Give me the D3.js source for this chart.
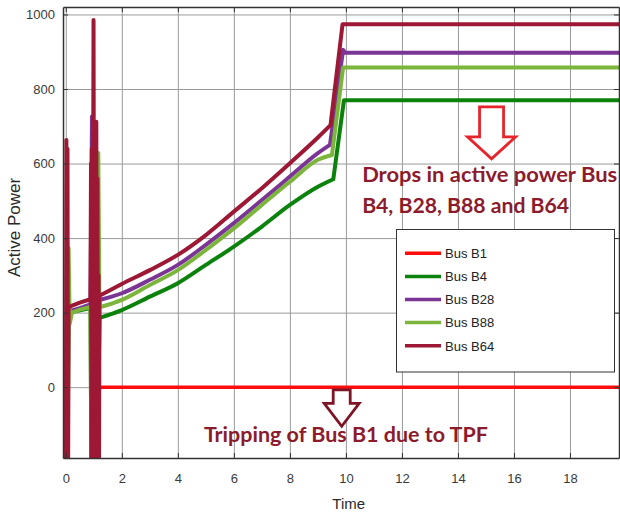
<!DOCTYPE html>
<html>
<head>
<meta charset="utf-8">
<script src="https://cdn.jsdelivr.net/npm/d3@7/dist/d3.min.js"></script>
<style>
  html, body { margin: 0; padding: 0; background: #fff; }
  svg { display: block; }
</style>
</head>
<body>
<svg id="chart" width="620" height="515"></svg>
<script>
// Active power per bus against time: [time, power] samples
// (fault transients dip below the visible range)
const busB1 = [[1.2, 0], [19.75, 0]];
const busB4 = [[0.05, -300], [0.1, 195], [0.3, 203], [0.88, 212], [0.92, -300], [1.14, -300], [1.2, 186],
  [2, 207], [3, 243], [4, 279], [5, 328], [6, 377], [7, 431], [8, 489], [9, 538], [9.55, 558], [9.93, 770], [19.75, 770]];
const busB28 = [[0.05, 200], [0.2, 205], [0.5, 212], [0.88, 222], [0.935, 726], [0.96, -300], [1.14, -300], [1.2, 234],
  [2, 252], [3, 288], [4, 328], [5, 382], [6, 440], [7, 502], [8, 565], [9, 628], [9.43, 650], [9.9, 905], [9.97, 897], [19.75, 897]];
const busB88 = [[0.07, -300], [0.1, 373], [0.14, 170], [0.22, 200], [0.5, 208], [0.88, 215], [0.92, -300], [1.1, -300],
  [1.16, 628], [1.2, 214], [2, 234], [3, 274], [4, 314], [5, 368], [6, 426], [7, 489], [8, 551], [9, 610], [9.5, 623],
  [9.9, 858], [19.75, 858]];
const busB64 = [[0.0, -300], [0.02, 663], [0.04, -300], [0.06, 640], [0.08, -300], [0.1, 214], [0.2, 218], [0.5, 227],
  [0.88, 236], [0.9, 600], [0.915, -300], [0.93, 640], [0.95, -300], [0.99, 985], [1.02, -300], [1.045, 650],
  [1.065, -300], [1.09, 712], [1.11, -300], [1.13, 560], [1.15, -300], [1.17, 300], [1.185, -300], [1.2, 245],
  [2, 277], [3, 314], [4, 355], [5, 408], [6, 471], [7, 534], [8, 601], [9, 670], [9.45, 703], [9.88, 974], [19.75, 974]];

const seriesNames = ["Bus B1", "Bus B4", "Bus B28", "Bus B88", "Bus B64"];
const seriesData = [busB1, busB4, busB28, busB88, busB64];
const seriesColors = ["#ff0d0d", "#0b820b", "#7b3594", "#7cb53c", "#9c1834"];

// the slow load ramp between the fault transient and the step
const rampFrom = 1.2, rampTo = 9.6;

const xTicks = [0, 2, 4, 6, 8, 10, 12, 14, 16, 18];
const yTicks = [0, 200, 400, 600, 800, 1000];

const svg = d3.select("#chart");
const plotLeft = 63, plotRight = 619, plotTop = 7, plotBottom = 458;

const x = d3.scaleLinear().domain([-0.1, 19.75]).range([plotLeft, plotRight]);
const y = d3.scaleLinear().domain([-190, 1020]).range([plotBottom, plotTop]);

// grid
svg.append("g")
  .attr("transform", `translate(0,${plotBottom})`)
  .call(d3.axisBottom(x).tickValues(xTicks).tickSize(-(plotBottom - plotTop)).tickFormat(""))
  .call(g => g.select(".domain").remove())
  .selectAll("line").attr("stroke", "#9a9a9a").attr("stroke-width", 1);
svg.append("g")
  .attr("transform", `translate(${plotLeft},0)`)
  .call(d3.axisLeft(y).tickValues(yTicks).tickSize(-(plotRight - plotLeft)).tickFormat(""))
  .call(g => g.select(".domain").remove())
  .selectAll("line").attr("stroke", "#9a9a9a").attr("stroke-width", 1);

// curves: straight segments for transients and steps, smooth through the ramp
svg.append("clipPath").attr("id", "plot-clip")
  .append("rect").attr("x", plotLeft).attr("y", plotTop)
  .attr("width", plotRight - plotLeft).attr("height", plotBottom - plotTop);

function seriesPath(pts) {
  const ctx = d3.path();
  const straight = d3.line().x(d => x(d[0])).y(d => y(d[1])).context(ctx);
  const smooth = d3.line().x(d => x(d[0])).y(d => y(d[1])).curve(d3.curveMonotoneX).context(ctx);
  const ramp = pts.filter(d => d[0] >= rampFrom && d[0] <= rampTo);
  if (ramp.length < 3) { straight(pts); return ctx.toString(); }
  const before = pts.filter(d => d[0] <= ramp[0][0]);
  const after = pts.filter(d => d[0] >= ramp[ramp.length - 1][0]);
  if (before.length > 1) straight(before);
  smooth(ramp);
  if (after.length > 1) straight(after);
  return ctx.toString();
}

svg.append("g").attr("clip-path", "url(#plot-clip)")
  .selectAll("path").data(seriesData).join("path")
  .attr("d", seriesPath)
  .attr("fill", "none")
  .attr("stroke", (d, i) => seriesColors[i])
  .attr("stroke-width", (d, i) => i === 0 ? 3.5 : 4)
  .attr("stroke-linejoin", "round")
  .attr("stroke-linecap", "round");

// axes frame with inward ticks
const tickColor = "#333";
const axB = svg.append("g").attr("transform", `translate(0,${plotBottom})`)
  .call(d3.axisBottom(x).tickValues(xTicks).tickSize(-5).tickPadding(15.5).tickSizeOuter(0).tickFormat(d3.format("d")));
const axL = svg.append("g").attr("transform", `translate(${plotLeft},0)`)
  .call(d3.axisLeft(y).tickValues(yTicks).tickSize(-5).tickPadding(8).tickSizeOuter(0).tickFormat(d3.format("d")));
const axT = svg.append("g").attr("transform", `translate(0,${plotTop})`)
  .call(d3.axisTop(x).tickValues(xTicks).tickSize(-5).tickFormat("").tickSizeOuter(0));
const axR = svg.append("g").attr("transform", `translate(${plotRight},0)`)
  .call(d3.axisRight(y).tickValues(yTicks).tickSize(-5).tickFormat("").tickSizeOuter(0));
[axB, axL, axT, axR].forEach(g => {
  g.select(".domain").attr("stroke", tickColor).attr("stroke-width", 1.5);
  g.selectAll(".tick line").attr("stroke", tickColor);
  g.selectAll("text").attr("fill", "#3a3a3a")
    .style("font-family", "'Liberation Sans', Arial, sans-serif").style("font-size", "13px");
});

// axis titles
svg.append("text")
  .attr("transform", `translate(20,227.5) rotate(-90)`)
  .attr("text-anchor", "middle")
  .style("font-family", "'Liberation Sans', Arial, sans-serif").style("font-size", "17px")
  .attr("fill", "#2a2a2a")
  .text("Active Power");
svg.append("text")
  .attr("x", x(10.1)).attr("y", 509)
  .attr("text-anchor", "middle")
  .style("font-family", "'Liberation Sans', Arial, sans-serif").style("font-size", "15px")
  .attr("fill", "#2a2a2a")
  .text("Time");

// legend
const legend = svg.append("g");
legend.append("rect")
  .attr("x", 396.5).attr("y", 229.5).attr("width", 218).attr("height", 142.5)
  .attr("fill", "#fff").attr("stroke", "#333").attr("stroke-width", 1);
seriesNames.forEach((name, i) => {
  const ly = 253.3 + i * 23.1;
  legend.append("line")
    .attr("x1", 405).attr("x2", 441).attr("y1", ly).attr("y2", ly)
    .attr("stroke", seriesColors[i]).attr("stroke-width", 3.5);
  legend.append("text")
    .attr("x", 445).attr("y", ly + 4.8)
    .style("font-family", "'Liberation Sans', Arial, sans-serif").style("font-size", "13px")
    .attr("fill", "#222")
    .text(name);
});

// block arrow outline, tip pointing down
function downArrow(cx, topY, shaftW, shaftH, headW, headH) {
  const p = d3.path();
  p.moveTo(cx - shaftW / 2, topY);
  p.lineTo(cx + shaftW / 2, topY);
  p.lineTo(cx + shaftW / 2, topY + shaftH);
  p.lineTo(cx + headW / 2, topY + shaftH);
  p.lineTo(cx, topY + shaftH + headH);
  p.lineTo(cx - headW / 2, topY + shaftH);
  p.lineTo(cx - shaftW / 2, topY + shaftH);
  p.closePath();
  return p.toString();
}

const noteColor = "#8c1b2d";
const noteFont = "Lato, 'Open Sans', sans-serif";

svg.append("path")
  .attr("d", downArrow(x(15.2), y(752), 24, 30, 48, 22))
  .attr("fill", "#fff").attr("stroke", "#e5252b").attr("stroke-width", 2.8)
  .attr("stroke-linejoin", "miter");
svg.append("path")
  .attr("d", downArrow(x(9.85), y(-7), 17, 13.5, 35, 23))
  .attr("fill", "#fff").attr("stroke", "#7e1424").attr("stroke-width", 2.8)
  .attr("stroke-linejoin", "miter");

const notes = [
  { text: "Drops in active power Bus", t: 10.58, v: 551, len: 255 },
  { text: "B4, B28, B88 and B64", t: 10.58, v: 466, len: 207 },
  { text: "Tripping of Bus B1 due to TPF", t: 4.93, v: -146, len: 284 }
];
svg.selectAll("text.note").data(notes).join("text")
  .attr("class", "note")
  .attr("x", d => x(d.t)).attr("y", d => y(d.v))
  .attr("textLength", d => d.len).attr("lengthAdjust", "spacingAndGlyphs")
  .style("font-family", noteFont).style("font-size", "21px").style("font-weight", "bold")
  .attr("fill", noteColor)
  .text(d => d.text);
</script>
</body>
</html>
